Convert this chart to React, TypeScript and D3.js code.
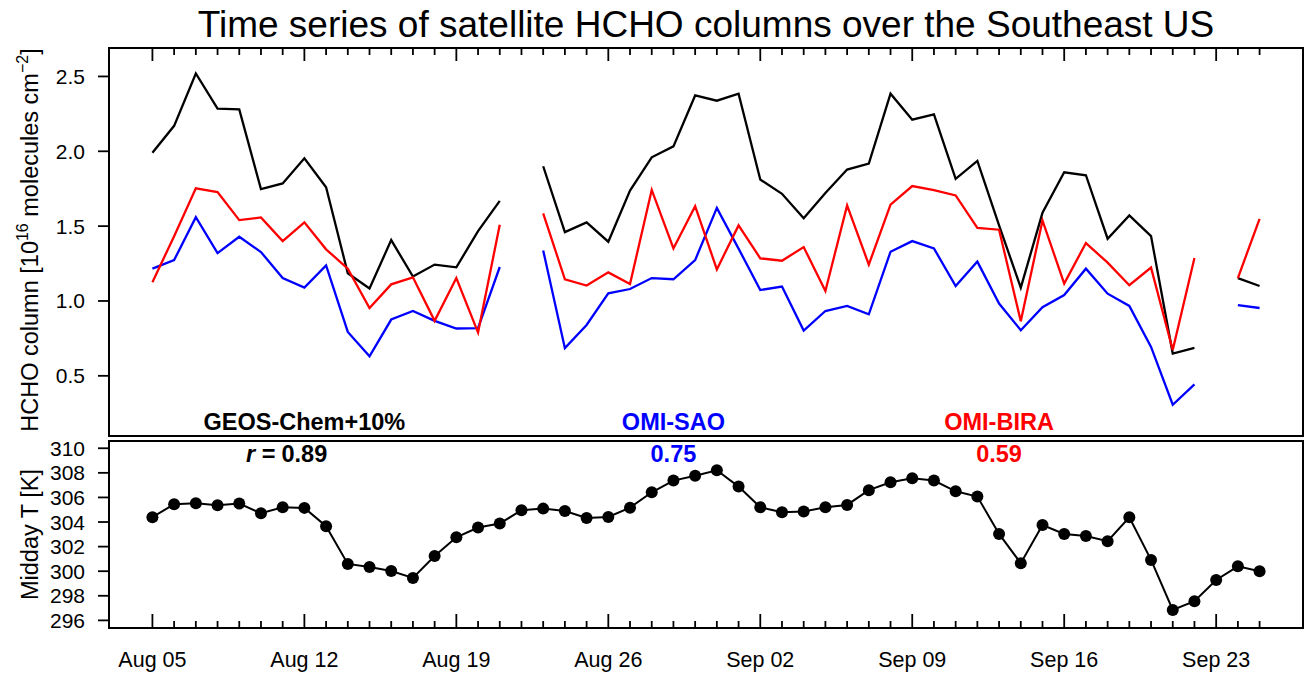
import React from "react";
import * as d3 from "d3";

const startDate = new Date(Date.UTC(2013, 7, 5));
const nDays = 52;
const dates = d3.range(nDays).map((i) => new Date(startDate.getTime() + i * 86400000));

// HCHO columns [1e16 molecules cm-2], null = missing
const geosChem: (number | null)[] = [
  1.99, 2.17, 2.52, 2.285, 2.28, 1.747, 1.785, 1.953, 1.76, 1.185, 1.083, 1.407, 1.163, 1.243, 1.225, 1.467, 1.669,
  null,
  1.9, 1.46, 1.525, 1.396, 1.738, 1.96, 2.033, 2.373, 2.338, 2.385, 1.811, 1.716, 1.553, 1.722, 1.878, 1.918, 2.385,
  2.211, 2.247, 1.816, 1.936, 1.505, 1.089, 1.589, 1.86, 1.84, 1.416, 1.571, 1.433, 0.649, 0.687,
  null,
  1.153, 1.1,
];
const omiSao: (number | null)[] = [
  1.216, 1.273, 1.56, 1.32, 1.429, 1.327, 1.153, 1.089, 1.238, 0.793, 0.631, 0.876, 0.933, 0.867, 0.816, 0.818, 1.227,
  null,
  1.338, 0.685, 0.84, 1.051, 1.08, 1.153, 1.145, 1.273, 1.622, 1.35, 1.073, 1.096, 0.802, 0.933, 0.967, 0.911, 1.329,
  1.4, 1.351, 1.1, 1.263, 0.983, 0.805, 0.958, 1.04, 1.216, 1.049, 0.967, 0.693, 0.307, 0.443,
  null,
  0.973, 0.953,
];
const omiBira: (number | null)[] = [
  1.125, 1.433, 1.753, 1.727, 1.54, 1.558, 1.4, 1.525, 1.345, 1.216, 0.953, 1.111, 1.158, 0.867, 1.153, 0.789, 1.509,
  null,
  1.585, 1.145, 1.103, 1.191, 1.113, 1.742, 1.351, 1.633, 1.211, 1.505, 1.285, 1.269, 1.36, 1.067, 1.638, 1.243, 1.643,
  1.768, 1.74, 1.705, 1.489, 1.476, 0.865, 1.538, 1.116, 1.387, 1.256, 1.105, 1.223, 0.673, 1.287,
  null,
  1.153, 1.549,
];
// Midday temperature [K]
const middayT: number[] = [
  304.39, 305.45, 305.53, 305.37, 305.5, 304.71, 305.2, 305.15, 303.66, 300.59, 300.35, 300.02, 299.45, 301.24,
  302.76, 303.55, 303.88, 304.96, 305.09, 304.9, 304.33, 304.41, 305.17, 306.42, 307.37, 307.77, 308.21, 306.88,
  305.2, 304.8, 304.85, 305.2, 305.39, 306.59, 307.24, 307.56, 307.37, 306.5, 306.07, 303.03, 300.65, 303.76,
  303.03, 302.87, 302.44, 304.39, 300.92, 296.85, 297.56, 299.29, 300.4, 300.0,
];

const topTicks = [0.5, 1.0, 1.5, 2.0, 2.5];
const botTicks = [296, 298, 300, 302, 304, 306, 308, 310];
const majorTickIdx = [0, 7, 14, 21, 28, 35, 42, 49];

const seriesInfo = [
  { name: "GEOS-Chem+10%", values: geosChem, color: "#000000", r: "0.89", labelDay: 7 },
  { name: "OMI-SAO", values: omiSao, color: "#0000ff", r: "0.75", labelDay: 24 },
  { name: "OMI-BIRA", values: omiBira, color: "#ff0000", r: "0.59", labelDay: 39 },
];

const W = 1308;
const H = 677;
const L = 109;
const R = 1303;
const topT = 48;
const topB = 436;
const botT = 441;
const botB = 628;
const font = "'Liberation Sans', Arial, Helvetica, sans-serif";

export default function App() {
  const x = d3
    .scaleUtc()
    .domain([new Date(Date.UTC(2013, 7, 3)), new Date(Date.UTC(2013, 8, 27))])
    .range([L, R]);
  const yTop = d3.scaleLinear().domain([0.098, 2.69]).range([topB, topT]);
  const yBot = d3.scaleLinear().domain([295.38, 310.59]).range([botB, botT]);
  const fmtDate = d3.utcFormat("%b %d");

  const hLine = d3
    .line<number | null>()
    .defined((d) => d !== null)
    .x((_, i) => x(dates[i]))
    .y((d) => yTop(d as number));
  const tLine = d3
    .line<number>()
    .x((_, i) => x(dates[i]))
    .y((d) => yBot(d));

  return (
    <svg width={W} height={H} style={{ display: "block", position: "absolute", left: 0, top: 0 }} fontFamily={font}>
      <rect x={0} y={0} width={W} height={H} fill="#fff" />
      <text x={(L + R) / 2} y={37} textAnchor="middle" fontSize={37}>
        Time series of satellite HCHO columns over the Southeast US
      </text>

      {/* top panel */}
      {seriesInfo.map((s) => (
        <path key={s.name} d={hLine(s.values) || ""} fill="none" stroke={s.color} strokeWidth={2.3} strokeLinejoin="miter" />
      ))}
      <rect x={L} y={topT} width={R - L} height={topB - topT} fill="none" stroke="#000" strokeWidth={2} />
      {dates.map((d, i) => {
        const major = majorTickIdx.includes(i);
        return (
          <line key={"tt" + i} x1={x(d)} x2={x(d)} y1={topT} y2={topT + (major ? 13 : 7)} stroke="#000" strokeWidth={1.8} />
        );
      })}
      {topTicks.map((t) => (
        <g key={"yt" + t}>
          <line x1={L - 11} x2={L} y1={yTop(t)} y2={yTop(t)} stroke="#000" strokeWidth={1.8} />
          <text x={85} y={yTop(t) + 7.5} textAnchor="end" fontSize={21}>
            {t.toFixed(1)}
          </text>
        </g>
      ))}
      <text transform={`translate(38, ${(topT + topB) / 2 - 2}) rotate(-90)`} textAnchor="middle" fontSize={23.5}>
        HCHO column [10
        <tspan fontSize={16} dy={-10}>16</tspan>
        <tspan dy={10}> molecules cm</tspan>
        <tspan fontSize={16} dy={-10}>−2</tspan>
        <tspan dy={10}>]</tspan>
      </text>
      {seriesInfo.map((s) => (
        <text key={"lab" + s.name} x={x(dates[s.labelDay])} y={430} textAnchor="middle" fontSize={23.5} fontWeight="bold" fill={s.color}>
          {s.name}
        </text>
      ))}

      {/* bottom panel */}
      <path d={tLine(middayT) || ""} fill="none" stroke="#000" strokeWidth={2} />
      {middayT.map((v, i) => (
        <circle key={"c" + i} cx={x(dates[i])} cy={yBot(v)} r={6} fill="#000" />
      ))}
      <rect x={L} y={botT} width={R - L} height={botB - botT} fill="none" stroke="#000" strokeWidth={2} />
      {dates.map((d, i) => {
        const major = majorTickIdx.includes(i);
        return (
          <line key={"bt" + i} x1={x(d)} x2={x(d)} y1={botB} y2={botB - (major ? 14 : 7)} stroke="#000" strokeWidth={1.8} />
        );
      })}
      {botTicks.map((t) => (
        <g key={"yb" + t}>
          <line x1={L - 11} x2={L} y1={yBot(t)} y2={yBot(t)} stroke="#000" strokeWidth={1.8} />
          <text x={85} y={yBot(t) + 7.5} textAnchor="end" fontSize={21}>
            {t}
          </text>
        </g>
      ))}
      <text transform={`translate(38, ${(botT + botB) / 2}) rotate(-90)`} textAnchor="middle" fontSize={23.5}>
        Midday T [K]
      </text>
      {seriesInfo.map((s, k) => (
        <g key={"r" + s.name}>
          <text x={x(dates[s.labelDay])} y={462} textAnchor="middle" fontSize={23.5} fontWeight="bold" fill={s.color}>
            {s.r}
          </text>
          {k === 0 && (
            <text x={x(dates[s.labelDay]) - 29} y={462} textAnchor="end" fontSize={23.5} fontWeight="bold" fill={s.color}>
              <tspan fontStyle="italic">r</tspan> =
            </text>
          )}
        </g>
      ))}
      {majorTickIdx.map((i) => (
        <text key={"xl" + i} x={x(dates[i])} y={667} textAnchor="middle" fontSize={21.5}>
          {fmtDate(dates[i])}
        </text>
      ))}
    </svg>
  );
}
